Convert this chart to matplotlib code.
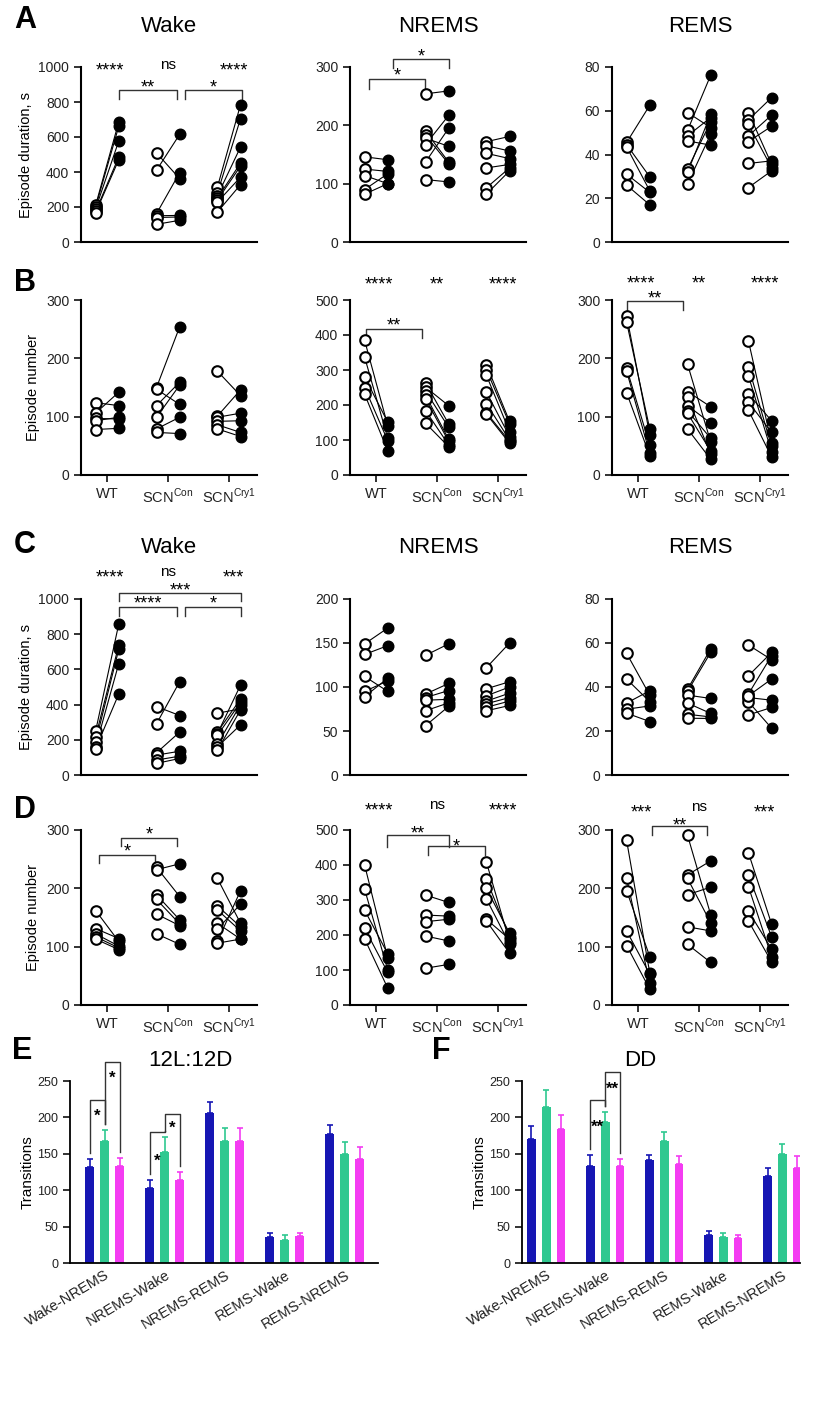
import matplotlib.pyplot as plt
import numpy as np

plt.rcParams['font.family'] = ['Liberation Sans', 'DejaVu Sans']
plt.rcParams['mathtext.fontset'] = 'custom'
plt.rcParams['mathtext.rm'] = 'Liberation Sans'

W, H = 827, 1420
groups = ['WT', r'SCN$^{\mathrm{Con}}$', r'SCN$^{\mathrm{Cry1}}$']

# ---- paired data: open circles (first phase) and filled circles (second phase) per group ----
a_wake_open = [[210, 200, 190, 175, 168], [509, 410, 162, 150, 140, 101], [314, 280, 265, 251, 240, 228, 171]]
a_wake_fill = [[686, 661, 577, 486, 470], [362, 615, 396, 152, 143, 124], [785, 705, 543, 451, 434, 371, 328]]
a_nrem_open = [[146, 125, 114, 90, 82], [254, 190, 183, 178, 167, 137, 107], [172, 165, 152, 127, 93, 82]]
a_nrem_fill = [[141, 121, 100, 117, 100], [259, 137, 134, 164, 217, 195, 103], [181, 156, 143, 133, 127, 122]]
a_rem_open = [[45.5, 44.5, 43.5, 31, 26], [59.2, 51, 48.5, 46.2, 33.3, 31.8, 26.5], [59.2, 55.8, 53.8, 48.5, 45.9, 35.9, 24.9]]
a_rem_fill = [[62.5, 29.8, 23.4, 22.7, 17], [52.3, 76.2, 56.9, 44.3, 54.9, 58.4, 49.3], [35.6, 66, 34, 58, 52.9, 37.1, 32.5]]

b_wake_open = [[124, 106, 97, 93, 78], [150, 147, 119, 99, 79, 73], [178, 101, 99, 92, 86, 79]]
b_wake_fill = [[119, 142, 96, 99, 80], [254, 121, 159, 154, 99, 71], [136, 146, 106, 93, 73, 66]]
b_nrem_open = [[385, 337, 280, 250, 231], [263, 251, 240, 228, 218, 184, 148], [315, 301, 285, 237, 204, 178, 174]]
b_nrem_fill = [[141, 105, 151, 98, 69], [146, 198, 136, 102, 96, 86, 81], [153, 146, 124, 110, 100, 96, 91]]
b_rem_open = [[273, 262, 183, 178, 141], [190, 143, 133, 119, 110, 106, 79], [230, 186, 170, 139, 125, 111]]
b_rem_fill = [[69, 79, 51, 37, 33], [57, 117, 36, 89, 63, 41, 27], [55, 49, 40, 93, 73, 31]]

c_wake_open = [[250, 216, 188, 160, 150], [389, 291, 126, 113, 85, 66], [351, 244, 235, 225, 175, 160, 141]]
c_wake_fill = [[858, 738, 714, 633, 460], [338, 530, 244, 135, 107, 94], [376, 432, 511, 413, 400, 285, 370]]
c_nrem_open = [[149, 137, 112, 95, 89], [136, 92, 88, 85, 73, 56], [122, 98, 90, 84, 81, 77, 73]]
c_nrem_fill = [[167, 147, 95, 107, 110], [149, 104, 96, 86, 82, 78], [150, 106, 100, 93, 88, 84, 79]]
c_rem_open = [[55.3, 43.6, 32.7, 29.9, 28.1], [39, 38, 36.3, 32.7, 27.6, 25.8], [59.1, 45.1, 36.8, 35.2, 33.3, 27.3, 36]]
c_rem_fill = [[36.3, 33.3, 38.3, 31.4, 24.3], [57.3, 55.7, 34.8, 28, 26.4, 25.7], [52.4, 55.7, 54.2, 34, 21.3, 30.7, 43.6]]

d_wake_open = [[162, 131, 122, 117, 113], [236, 232, 189, 181, 156, 122], [217, 170, 163, 140, 130, 109, 106]]
d_wake_fill = [[109, 114, 101, 98, 95], [186, 242, 146, 139, 136, 104], [140, 134, 127, 113, 173, 196, 113]]
d_nrem_open = [[400, 331, 271, 219, 189], [314, 257, 238, 197, 105], [408, 359, 333, 303, 245, 240]]
d_nrem_fill = [[135, 100, 146, 93, 48], [293, 254, 245, 183, 116], [181, 195, 205, 174, 188, 148]]
d_rem_open = [[282, 217, 196, 127, 102], [291, 223, 217, 189, 134, 104], [261, 223, 203, 161, 144]]
d_rem_fill = [[55, 37, 83, 53, 27], [155, 247, 141, 202, 127, 73], [139, 117, 83, 96, 74]]

# significance labels above each group (labels, y) and brackets (x1, x2, line y, leg y, label, label y)
a_wake_sig = (['****', 'ns', '****'], 1010)
a_wake_br = [(0.2, 1.15, 867, 815, '**', 914), (1.28, 2.21, 867, 815, '*', 914)]
a_nrem_br = [(-0.12, 0.8, 280, 263, '*', 295), (0.28, 1.2, 313, 299, '*', 327)]
b_nrem_sig = (['****', '**', '****'], 559)
b_nrem_br = [(-0.16, 0.75, 418, 392, '**', 443)]
b_rem_sig = (['****', '**', '****'], 338)
b_rem_br = [(-0.18, 0.74, 299, 283, '**', 311)]
c_wake_sig = (['****', 'ns', '***'], 1155)
c_wake_br = [(0.2, 2.2, 1033, 986, '***', 1080), (0.2, 1.15, 952, 901, '****', 1005),
             (1.28, 2.2, 952, 901, '*', 1005)]
d_wake_br = [(-0.13, 0.79, 258, 243, '*', 273), (0.23, 1.15, 287, 273, '*', 302)]
d_nrem_sig = (['****', 'ns', '****'], 571)
d_nrem_br = [(0.18, 1.2, 486, 452, '**', 505), (0.85, 1.79, 454, 429, '*', 467)]
d_rem_sig = (['***', 'ns', '***'], 340)
d_rem_br = [(0.23, 1.13, 307, 291, '**', 317)]

# ---- transitions (bars): WT, SCN-Con, SCN-Cry1 ----
trans_cats = ['Wake-NREMS', 'NREMS-Wake', 'NREMS-REMS', 'REMS-Wake', 'REMS-NREMS']
ld_mean = [[132, 103, 206, 36, 177], [168, 152, 168, 32, 150], [133, 114, 168, 37, 143]]
ld_sem = [[11, 11, 15, 5, 13], [15, 21, 17, 6, 16], [11, 11, 17, 4, 16]]
dd_mean = [[171, 133, 141, 39, 120], [214, 194, 168, 36, 150], [184, 133, 136, 35, 131]]
dd_sem = [[17, 15, 7, 5, 10], [24, 13, 12, 5, 13], [19, 10, 11, 3, 16]]
bar_colors = ['#1616b4', '#2fc890', '#f43cf2']
ld_br = [(0, 0, 1, 224, '*', 209), (0, 1, 2, 276, '*', 261), (1, 0, 1, 180, '*', 147), (1, 1, 2, 205, '*', 192)]
dd_br = [(1, 0, 1, 224, '**', 194), (1, 1, 2, 262, '**', 246)]

fig = plt.figure(figsize=(W / 100, H / 100), dpi=100)


def px_axes(left, top, right, bottom):
    return fig.add_axes([left / W, 1 - bottom / H, (right - left) / W, (bottom - top) / H])


def put(ax, x, y, t, fs, bold=False):
    # centre the visible glyphs (asterisks sit high in the em box) on y
    k = 0.575 if '*' in t else 0.265
    ax.annotate(t, (x, y), xytext=(0, -k * fs), textcoords='offset points', ha='center',
                va='baseline', fontsize=fs, fontweight='bold' if bold else 'normal',
                annotation_clip=False)


def style(ax, lw=1.5):
    for s in ['top', 'right']:
        ax.spines[s].set_visible(False)
    for s in ['left', 'bottom']:
        ax.spines[s].set_linewidth(lw)
    ax.tick_params(direction='out', length=5, width=1.3, labelsize=10, colors='#222222')


def paired(ax, opens, fills, ymax, step, ticks=False, sig=None, brackets=()):
    d = 0.19
    for g, (o, f) in enumerate(zip(opens, fills)):
        for a, b in zip(o, f):
            ax.plot([g - d, g + d], [a, b], color='black', lw=0.8, zorder=1)
        ax.scatter(np.full(len(o), g - d), o, s=58, facecolor='white', edgecolor='black',
                   linewidth=1.5, zorder=3, clip_on=False)
        ax.scatter(np.full(len(f), g + d), f, s=58, color='black', zorder=3, clip_on=False)
    ax.set_xlim(-0.43, 2.46)
    ax.set_ylim(0, ymax)
    ax.set_yticks(np.arange(0, ymax + 1, step))
    style(ax)
    if ticks:
        ax.set_xticks(range(3))
        ax.set_xticklabels(groups, fontsize=10.5)
    else:
        ax.set_xticks([])
    if sig:
        labels, sy = sig
        for xg, t in zip([0.05, 1.0, 2.08], labels):
            put(ax, xg, sy, t, 13 if t != 'ns' else 11)
    for x1, x2, yl, yleg, t, ty in brackets:
        ax.plot([x1, x1, x2, x2], [yleg, yl, yl, yleg], color='#333333', lw=1.0, clip_on=False)
        put(ax, (x1 + x2) / 2, ty, t, 13)


cols = [81, 350, 612]
rows = [(67, 242), (300, 475), (599, 775), (830, 1005)]
panels = [
    [(a_wake_open, a_wake_fill, 1000, 200, a_wake_sig, a_wake_br),
     (a_nrem_open, a_nrem_fill, 300, 100, None, a_nrem_br),
     (a_rem_open, a_rem_fill, 80, 20, None, ())],
    [(b_wake_open, b_wake_fill, 300, 100, None, ()),
     (b_nrem_open, b_nrem_fill, 500, 100, b_nrem_sig, b_nrem_br),
     (b_rem_open, b_rem_fill, 300, 100, b_rem_sig, b_rem_br)],
    [(c_wake_open, c_wake_fill, 1000, 200, c_wake_sig, c_wake_br),
     (c_nrem_open, c_nrem_fill, 200, 50, None, ()),
     (c_rem_open, c_rem_fill, 80, 20, None, ())],
    [(d_wake_open, d_wake_fill, 300, 100, None, d_wake_br),
     (d_nrem_open, d_nrem_fill, 500, 100, d_nrem_sig, d_nrem_br),
     (d_rem_open, d_rem_fill, 300, 100, d_rem_sig, d_rem_br)],
]
for r, (top, bottom) in enumerate(rows):
    for c, left in enumerate(cols):
        o, f, ymax, step, sig, br = panels[r][c]
        ax = px_axes(left, top, left + 176, bottom)
        paired(ax, o, f, ymax, step, ticks=(r % 2 == 1), sig=sig, brackets=br)
        if c == 0:
            ax.set_ylabel('Episode duration, s' if r % 2 == 0 else 'Episode number', fontsize=10.5)

# titles and panel letters
for y in [27, 548]:
    for name, left in zip(['Wake', 'NREMS', 'REMS'], cols):
        fig.text((left + 88) / W, 1 - y / H, name, ha='center', va='center', fontsize=16)
for letter, x, y in [('A', 14, 20), ('B', 14, 283), ('C', 14, 545), ('D', 14, 810), ('E', 12, 1051), ('F', 432, 1051)]:
    fig.text(x / W, 1 - y / H, letter, ha='left', va='center', fontsize=22, fontweight='bold')


def bars(ax, means, sems, brackets, xlim):
    x = np.arange(len(trans_cats))
    for i, (m, e, col) in enumerate(zip(means, sems, bar_colors)):
        xs = x + (i - 1) * 0.25
        ax.bar(xs, m, width=0.15, color=col, zorder=2)
        ax.errorbar(xs, m, yerr=[np.zeros(len(m)), e], fmt='none', ecolor=col, elinewidth=1.2,
                    capsize=2.5, capthick=1.2, zorder=2)
    for g, i1, i2, yl, t, ty in brackets:
        x1, x2 = g + (i1 - 1) * 0.25, g + (i2 - 1) * 0.25
        top1 = means[i1][g] + sems[i1][g] + 8
        top2 = means[i2][g] + sems[i2][g] + 8
        ax.plot([x1, x1, x2, x2], [top1, yl, yl, top2], color='#333333', lw=1.0, clip_on=False)
        put(ax, (x1 + x2) / 2, ty, t, 12, bold=True)
    ax.set_xlim(*xlim)
    ax.set_ylim(0, 250)
    ax.set_yticks(np.arange(0, 251, 50))
    style(ax, lw=1.3)
    ax.tick_params(labelsize=9)
    ax.set_xticks(x)
    ax.set_xticklabels(trans_cats, rotation=31, ha='right', rotation_mode='anchor', fontsize=10.5)
    ax.tick_params(axis='x', length=0)
    ax.set_ylabel('Transitions', fontsize=11, labelpad=2)


ax_e = px_axes(70, 1081, 378, 1263)
bars(ax_e, ld_mean, ld_sem, ld_br, (-0.58, 4.55))
ax_f = px_axes(522, 1081, 800, 1263)
bars(ax_f, dd_mean, dd_sem, dd_br, (-0.41, 4.3))
fig.text(190 / W, 1 - 1060 / H, '12L:12D', ha='center', va='center', fontsize=16)
fig.text(640 / W, 1 - 1060 / H, 'DD', ha='center', va='center', fontsize=16)

fig.savefig('out.png', dpi=100)
